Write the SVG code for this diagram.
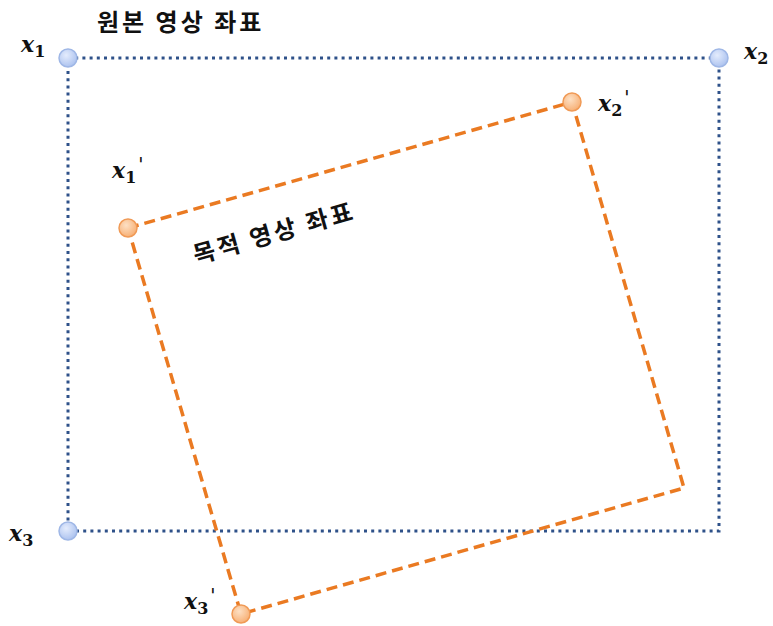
<svg xmlns="http://www.w3.org/2000/svg" width="773" height="626" viewBox="0 0 773 626">
<defs>
<radialGradient id="gb" cx="0.4" cy="0.35" r="0.7"><stop offset="0" stop-color="#e4ecfd"/><stop offset="1" stop-color="#a9c0ee"/></radialGradient>
<radialGradient id="go" cx="0.4" cy="0.35" r="0.7"><stop offset="0" stop-color="#fde0c4"/><stop offset="1" stop-color="#f7ad70"/></radialGradient>
</defs>
<style>
.blue{fill:none;stroke:#2e5189;stroke-width:3;stroke-dasharray:3 4.2}
.orange{fill:none;stroke:#ea7a22;stroke-width:3.5;stroke-dasharray:11 6}
.cb{fill:url(#gb);stroke:#9fb7e6;stroke-width:1.5}
.co{fill:url(#go);stroke:#f09a56;stroke-width:1.5}
.kr{font-family:"Noto Sans CJK KR","Noto Sans",sans-serif;font-weight:bold;font-size:24px;letter-spacing:3px;fill:#111}
.m{font-family:"DejaVu Serif",serif;font-style:italic;font-weight:bold;font-size:22px;fill:#111}
.s{font-family:"DejaVu Serif",serif;font-style:normal;font-weight:bold;font-size:16px}
.p{font-family:"DejaVu Sans",sans-serif;font-style:normal;font-weight:normal;font-size:19px}
</style>
<g id="connectors">
<path class="blue" d="M68,58 H719 V531 H68 Z"/>
<path class="orange" d="M128,228 L572,102 L684,488 L241,614 Z"/>
</g>
<g id="x1"><circle class="cb" cx="68" cy="58" r="9"/><text class="m" x="21" y="52">x<tspan class="s" dy="5">1</tspan></text></g>
<g id="x2"><circle class="cb" cx="719" cy="58" r="9"/><text class="m" x="744" y="59">x<tspan class="s" dy="5">2</tspan></text></g>
<g id="x3"><circle class="cb" cx="68" cy="531" r="9"/><text class="m" x="9" y="541">x<tspan class="s" dy="5">3</tspan></text></g>
<g id="x1p"><circle class="co" cx="128" cy="228" r="9"/><text class="m" x="112" y="178">x<tspan class="s" dy="5">1</tspan><tspan class="p" dy="-12" dx="2">'</tspan></text></g>
<g id="x2p"><circle class="co" cx="572" cy="102" r="9"/><text class="m" x="598" y="111">x<tspan class="s" dy="5">2</tspan><tspan class="p" dy="-12" dx="2">'</tspan></text></g>
<g id="x3p"><circle class="co" cx="241" cy="614" r="9"/><text class="m" x="184" y="609">x<tspan class="s" dy="5">3</tspan><tspan class="p" dy="-12" dx="2">'</tspan></text></g>
<g id="title1"><text class="kr" x="97" y="31">원본 영상 좌표</text></g>
<g id="title2"><text class="kr" transform="translate(196,264) rotate(-15.8)">목적 영상 좌표</text></g>
</svg>
